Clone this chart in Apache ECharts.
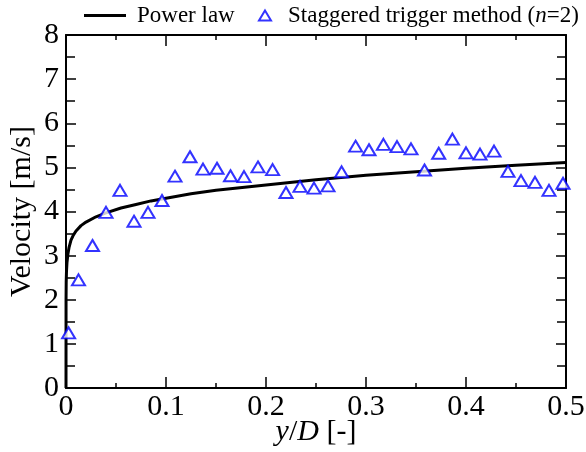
<!DOCTYPE html>
<html>
<head>
<meta charset="utf-8">
<script src="https://cdn.jsdelivr.net/npm/echarts@6/dist/echarts.min.js"></script>
<style>
  html, body { margin: 0; padding: 0; background: #fff; }
  #chart { width: 586px; height: 452px; }
</style>
</head>
<body>
<div id="chart"></div>
<script>
// measured points, staggered trigger method (n=2)
const trigX = [0.0026, 0.0125, 0.0265, 0.040, 0.054, 0.068, 0.082, 0.096, 0.109, 0.124,
  0.137, 0.151, 0.1645, 0.178, 0.192, 0.2066, 0.220, 0.234, 0.248, 0.262,
  0.2756, 0.2896, 0.303, 0.3174, 0.331, 0.345, 0.3585, 0.3727, 0.3864, 0.400,
  0.414, 0.428, 0.442, 0.455, 0.469, 0.483, 0.497];
const trigV = [1.25, 2.45, 3.23, 3.98, 4.48, 3.78, 3.98, 4.25, 4.80, 5.24,
  4.96, 4.98, 4.81, 4.79, 5.01, 4.95, 4.43, 4.57, 4.53, 4.58,
  4.90, 5.48, 5.40, 5.52, 5.47, 5.42, 4.94, 5.32, 5.64, 5.33,
  5.30, 5.37, 4.91, 4.70, 4.66, 4.48, 4.64];

// power law curve
const lawX = [0, 0.00005, 0.0002, 0.0005, 0.001, 0.002, 0.003, 0.005, 0.007, 0.01,
  0.015, 0.02, 0.03, 0.04, 0.055, 0.07, 0.085, 0.1, 0.125, 0.15,
  0.2, 0.25, 0.3, 0.35, 0.4, 0.45, 0.5];
const lawV = [0, 2.0, 2.4, 2.65, 2.85, 3.05, 3.18, 3.35, 3.45, 3.56,
  3.68, 3.76, 3.88, 3.97, 4.08, 4.16, 4.24, 4.30, 4.40, 4.48,
  4.60, 4.72, 4.82, 4.90, 4.98, 5.05, 5.11];

const xTicks = ['0', '0.1', '0.2', '0.3', '0.4', '0.5'];
const yTicks = ['0', '1', '2', '3', '4', '5', '6', '7', '8'];

const font = '"Liberation Serif", "Times New Roman", serif';

const chart = echarts.init(document.getElementById('chart'));

const axisLine = { show: true, onZero: false, lineStyle: { color: '#000', width: 2 } };
const xTick = { show: true, inside: true, length: 11, lineStyle: { color: '#000', width: 1.5 } };
const xMinor = { show: true, splitNumber: 2, length: 5, lineStyle: { color: '#000', width: 1.5 } };
const yTick = { show: true, inside: true, length: 10, lineStyle: { color: '#000', width: 1.5 } };
const yMinor = { show: true, splitNumber: 2, length: 9, lineStyle: { color: '#000', width: 1.5 } };

const legendText = {
  fontFamily: font, fontSize: 23, color: '#000',
  rich: { i: { fontFamily: font, fontSize: 23, fontStyle: 'italic', color: '#000' } }
};

chart.setOption({
  animation: false,
  textStyle: { fontFamily: font },
  grid: { left: 66, right: 20, top: 35, bottom: 64, outerBoundsMode: 'none', containLabel: false },
  legend: [
    {
      top: 4, left: 84, padding: 0,
      itemWidth: 42, itemHeight: 3,
      textStyle: Object.assign({ padding: [0, 0, 0, 6] }, legendText),
      formatter: () => 'Power law',
      data: [{ name: 'law', icon: 'rect', itemStyle: { color: '#000' } }]
    },
    {
      top: 4, left: 258, padding: 0,
      itemWidth: 12, itemHeight: 10,
      textStyle: Object.assign({ padding: [0, 0, 0, 12] }, legendText),
      formatter: () => 'Staggered trigger method ({i|n}=2)',
      data: [{ name: 'trig', icon: 'triangle', itemStyle: { color: '#fff', borderColor: '#0000ff', borderWidth: 2 } }]
    }
  ],
  xAxis: [
    {
      type: 'value', min: 0, max: 0.5, interval: 0.1,
      axisLine: axisLine, axisTick: xTick, minorTick: xMinor, splitLine: { show: false },
      axisLabel: {
        fontFamily: font, fontSize: 30, color: '#000', margin: 4,
        formatter: (v) => xTicks[Math.round(v * 10)]
      },
      name: '{i|y}/{i|D} [-]',
      nameLocation: 'middle',
      nameGap: 29,
      nameMoveOverlap: false,
      nameTextStyle: {
        fontFamily: font, fontSize: 30, color: '#000',
        rich: { i: { fontFamily: font, fontSize: 30, fontStyle: 'italic', color: '#000' } }
      }
    },
    {
      type: 'value', min: 0, max: 0.5, interval: 0.1, position: 'top',
      axisLine: axisLine, axisTick: xTick, minorTick: xMinor, splitLine: { show: false },
      axisLabel: { show: false }
    }
  ],
  yAxis: [
    {
      type: 'value', min: 0, max: 8, interval: 1,
      axisLine: axisLine, axisTick: yTick, minorTick: yMinor, splitLine: { show: false },
      axisLabel: {
        fontFamily: font, fontSize: 30, color: '#000', margin: 7,
        formatter: (v) => yTicks[Math.round(v)]
      },
      name: 'Velocity [m/s]',
      nameLocation: 'middle',
      nameGap: 29,
      nameMoveOverlap: false,
      nameTextStyle: { fontFamily: font, fontSize: 30, color: '#000' }
    },
    {
      type: 'value', min: 0, max: 8, interval: 1, position: 'right',
      axisLine: axisLine, axisTick: yTick, minorTick: yMinor, splitLine: { show: false },
      axisLabel: { show: false }
    }
  ],
  series: [
    {
      name: 'law',
      type: 'line',
      showSymbol: false,
      symbol: 'none',
      lineStyle: { color: '#000', width: 3 },
      itemStyle: { color: '#000' },
      data: lawX.map((x, i) => [x, lawV[i]]),
      z: 2
    },
    {
      name: 'trig',
      type: 'scatter',
      symbol: 'triangle',
      symbolSize: [13, 11],
      itemStyle: { color: '#fff', borderColor: '#0000ff', borderWidth: 2 },
      data: trigX.map((x, i) => [x, trigV[i]]),
      z: 3
    }
  ]
});
</script>
</body>
</html>
